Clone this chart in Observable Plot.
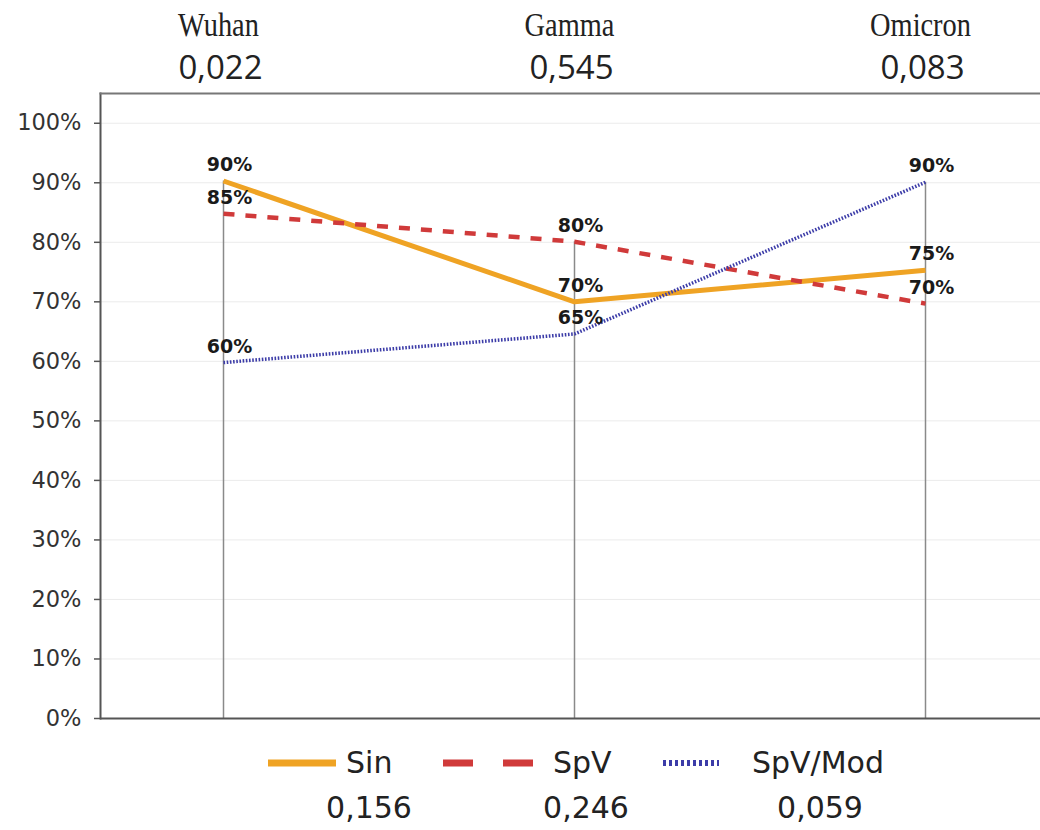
<!DOCTYPE html>
<html>
<head>
<meta charset="utf-8">
<script src="https://cdn.jsdelivr.net/npm/d3@7"></script>
<script src="https://cdn.jsdelivr.net/npm/@observablehq/plot@0.6"></script>
<style>
  html, body { margin: 0; padding: 0; background: #fff; }
  #wrap { position: relative; width: 1040px; height: 830px; font-family: "DejaVu Sans", Verdana, sans-serif; }
  #legend { position: relative; width: 1040px; height: 95px; }
  .lg { position: absolute; white-space: nowrap; color: #222; }
</style>
</head>
<body>
<div id="wrap">
  <div id="chart"></div>
  <div id="legend"></div>
</div>
<script>
// ---- data ----
const categories = ["Wuhan", "Gamma", "Omicron"];
const categoryValues = ["0,022", "0,545", "0,083"];
const seriesNames = ["Sin", "SpV", "SpV/Mod"];
const seriesValues = ["0,156", "0,246", "0,059"];
const sinValues = [0.903, 0.700, 0.753];
const spvValues = [0.848, 0.801, 0.697];
const spvModValues = [0.598, 0.646, 0.901];
const yTicks = [0, 0.1, 0.2, 0.3, 0.4, 0.5, 0.6, 0.7, 0.8, 0.9, 1.0];

// ---- styles ----
const seriesArrays = [sinValues, spvValues, spvModValues];
const colors = ["#EFA324", "#D03A3A", "#3C3CA8"];
const widths = [5, 4.5, 3.5];
const dashes = [null, "11,11", "1.6,1.6"];

const rows = seriesNames.flatMap((s, si) =>
  categories.map((c, ci) => ({series: s, category: c, value: seriesArrays[si][ci]})));
const maxByCat = categories.map((c, ci) => ({category: c, max: d3.max(seriesArrays, a => a[ci])}));

const pct = d3.format(".0%");

const chart = Plot.plot({
  width: 1040,
  height: 735,
  marginLeft: 100,
  marginRight: 0,
  marginTop: 93,
  marginBottom: 17,
  style: {fontFamily: "DejaVu Sans, Verdana, sans-serif", background: "#fff"},
  x: {type: "point", domain: categories, range: [223, 925], padding: 0, axis: null},
  y: {domain: [0, 1.05], axis: null},
  marks: [
    Plot.ruleY(yTicks.filter(t => t > 0), {stroke: "#ebebeb", strokeWidth: 1}),
    Plot.ruleX(maxByCat, {x: "category", y1: 0, y2: "max", stroke: "#8a8a8a", strokeWidth: 1.5}),
    ...seriesNames.map((s, si) =>
      Plot.line(rows.filter(r => r.series === s), {
        x: "category", y: "value",
        stroke: colors[si], strokeWidth: widths[si],
        strokeDasharray: dashes[si], strokeLinecap: "butt", strokeLinejoin: "round"
      })),
    Plot.text(rows, {
      x: "category", y: "value", text: d => pct(d.value),
      dx: 6, dy: -16, fontWeight: "bold", fontSize: 19, fill: "#1a1a1a",
      fontFamily: "DejaVu Sans, Verdana, sans-serif"
    }),
    Plot.frame({anchor: "left", stroke: "#555", strokeWidth: 2}),
    Plot.frame({anchor: "top", stroke: "#777", strokeWidth: 2}),
    Plot.ruleY([0], {stroke: "#555", strokeWidth: 2}),
    Plot.axisY({
      ticks: yTicks, tickFormat: pct, tickSize: 6, tickPadding: 13,
      fontSize: 22.5, fill: "#333", stroke: "#555", strokeWidth: 1.5
    }),
    Plot.text(categories, {
      x: d => d, text: d => d, frameAnchor: "top", lineAnchor: "middle", dy: -68, dx: -5,
      fontFamily: "Liberation Serif, serif", fontSize: 33, fill: "#222"
    }),
    Plot.text(categories, {
      x: d => d, text: (d, i) => categoryValues[i], frameAnchor: "top", lineAnchor: "middle", dy: -25, dx: -3,
      fontFamily: "Open Sans, sans-serif", fontSize: 33, fill: "#222"
    })
  ]
});
document.getElementById("chart").appendChild(chart);
// condense the serif category names horizontally (like the narrow serif of the original)
d3.select(chart).selectAll('g[font-family^="Liberation Serif"] text').each(function() {
  const w = this.getComputedTextLength();
  if (w > 0) {
    this.setAttribute("textLength", (w * 0.86).toFixed(1));
    this.setAttribute("lengthAdjust", "spacingAndGlyphs");
  }
});

// ---- legend (HTML, below the SVG) ----
const legend = d3.select("#legend");
const swatchLeft = [268, 443, 663];
const swatchWidth = [68, 90, 56];
const textLeft = [346, 553, 752];
const valueCenter = [369, 586, 820];
const legendDash = [null, "30,30", "3,3"];
const legendWidth = [7, 7, 6];
seriesNames.forEach((s, i) => {
  const sw = legend.append("svg")
    .attr("class", "lg")
    .attr("width", swatchWidth[i]).attr("height", 12)
    .style("left", swatchLeft[i] + "px").style("top", "22px");
  sw.append("line")
    .attr("x1", 0).attr("x2", swatchWidth[i]).attr("y1", 6).attr("y2", 6)
    .attr("stroke", colors[i]).attr("stroke-width", legendWidth[i])
    .attr("stroke-dasharray", legendDash[i]);
  legend.append("div").attr("class", "lg")
    .style("left", textLeft[i] + "px").style("top", "9px")
    .style("font-size", "30px").style("line-height", "38px")
    .text(s);
  legend.append("div").attr("class", "lg")
    .style("left", (valueCenter[i] - 60) + "px").style("width", "120px")
    .style("text-align", "center").style("top", "54px")
    .style("font-size", "30px").style("line-height", "38px")
    .text(seriesValues[i]);
});
</script>
</body>
</html>
